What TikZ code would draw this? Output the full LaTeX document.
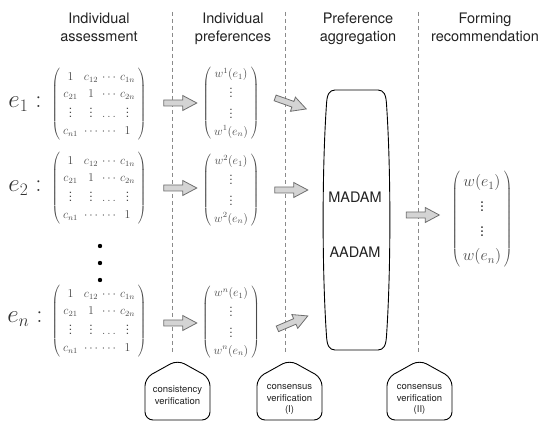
\RequirePackage{fix-cm}
\documentclass[tikz,border=0pt]{standalone}
\usepackage[no-math]{fontspec}
\setmainfont{TeX Gyre Heros}
\usetikzlibrary{shapes.arrows}
\definecolor{mgray}{HTML}{4A4A4A}
\definecolor{egray}{HTML}{333333}
\definecolor{dgray}{HTML}{8A8A8A}
\definecolor{afill}{HTML}{D4D4D4}
\definecolor{aline}{HTML}{6E6E6E}
\definecolor{htext}{HTML}{222222}
\newcommand{\prefmat}{$\left(\begin{array}{@{\hspace{3pt}}c@{\hspace{6pt}}c@{\hspace{4pt}}c@{\hspace{4pt}}c@{\hspace{3pt}}}
1 & c_{12} & \cdots & c_{1n}\\
c_{21} & 1 & \cdots & c_{2n}\\
\vdots & \vdots & \ldots & \vdots\\
c_{n1} & \cdots & \cdots & 1
\end{array}\right)$}
\newcommand{\wvec}[1]{$\left(\begin{array}{@{\hspace{3pt}}c@{\hspace{3pt}}}
w^{#1}(e_1)\\ \vdots\\ \vdots\\ w^{#1}(e_n)
\end{array}\right)$}
\tikzset{
  header/.style={font=\fontsize{14.5}{18.5}\selectfont, text=htext, align=center, inner sep=0pt, anchor=north},
  mtx/.style={text=mgray, font=\fontsize{12}{13}\selectfont\renewcommand{\arraystretch}{1.3}, inner sep=0pt},
  elabel/.style={text=egray, font=\fontsize{25}{25}\selectfont, inner sep=0pt},
  barrow/.style={single arrow, draw=aline, fill=afill, line width=0.8pt, minimum height=33pt,
    inner sep=2.6pt, single arrow head extend=4.5pt, single arrow tip angle=56},
  sep/.style={draw=dgray, line width=0.8pt, dash pattern=on 4pt off 3pt},
  house/.style={draw=black, line width=0.9pt, rounded corners=8pt, fill=white},
  boxtext/.style={font=\fontsize{9.5}{11.7}\selectfont, align=center, inner sep=0pt, text=htext},
  aggtext/.style={font=\fontsize{14.5}{16}\selectfont, inner sep=0pt, text=htext},
}
\begin{document}
\begin{tikzpicture}[x=1pt,y=-1pt]
\useasboundingbox (0,0) rectangle (550,430);
% separators
\coordinate (s1t) at (172,12); \coordinate (s1b) at (172,352);
\coordinate (s2t) at (285,12); \coordinate (s2b) at (285,352);
\coordinate (s3t) at (418,12); \coordinate (s3b) at (418,352);
\draw[sep] (s1t) -- (s1b);
\draw[sep] (s2t) -- (s2b);
\draw[sep] (s3t) -- (s3b);
% headers
\node[header] (h1) at (99,12.4) {Individual\\assessment};
\node[header] (h2) at (233,12.4) {Individual\\preferences};
\node[header] (h3) at (358,12.4) {Preference\\aggregation};
\node[header] (h4) at (485,12.4) {Forming\\recommendation};
% expert labels
\node[elabel] (e1) at (25,104) {$e_1:$};
\node[elabel] (e2) at (25,188) {$e_2:$};
\node[elabel] (en) at (25,319) {$e_n:$};
% matrices
\node[mtx] (m1) at (99,104) {\prefmat};
\node[mtx] (m2) at (99,188) {\prefmat};
\node[mtx] (mn) at (99,321) {\prefmat};
% vertical dots
\fill (100,246) circle (2.2pt);
\fill (100,263) circle (2.2pt);
\fill (100,280) circle (2.2pt);
% preference vectors
\node[mtx] (p1) at (231,103) {\wvec{1}};
\node[mtx] (p2) at (231,190) {\wvec{2}};
\node[mtx] (pn) at (231,322) {\wvec{n}};
% arrows matrix -> preferences
\node[barrow] (a1) at (177.5,103) {};
\node[barrow] (a2) at (177.5,188) {};
\node[barrow] (an) at (177.5,323) {};
% aggregation box
\draw[line width=0.9pt] (356,90) -- (378,90) .. controls (384,90) and (386,95) .. (386.5,104)
  .. controls (391,170) and (391,270) .. (386.5,336) .. controls (386,345) and (384,350) .. (378,350)
  -- (335,350) .. controls (329,350) and (327,345) .. (326.5,336)
  .. controls (322,270) and (322,170) .. (326.5,104) .. controls (327,95) and (329,90) .. (335,90) -- cycle;
\node[aggtext] (madam) at (355,197) {MADAM};
\node[aggtext] (aadam) at (355,252) {AADAM};
% arrows preferences -> aggregation
\node[barrow, rotate=-19.5] (b1) at (288,102.5) {};
\node[barrow] (b2) at (288.5,190) {};
\node[barrow, rotate=23] (bn) at (290,323.5) {};
% result
\node[barrow] (c1) at (420,215) {};
\node[mtx, font=\fontsize{16}{19}\selectfont\renewcommand{\arraystretch}{1.3}] (res) at (482,219)
  {$\left(\begin{array}{@{\,}c@{\,}} w(e_1)\\ \vdots\\ \vdots\\ w(e_n)\end{array}\right)$};
% verification boxes
\draw[house] (145,378) -- (177.5,360) -- (210,378) -- (210,420) -- (145,420) -- cycle;
\node[boxtext] (v1) at (177.5,395) {consistency\\verification};
\draw[house] (257,378) -- (289.5,360) -- (322,378) -- (322,420) -- (257,420) -- cycle;
\node[boxtext] (v2) at (289.5,399.5) {consensus\\verification\\(I)};
\draw[house] (387,378) -- (419.5,360) -- (452,378) -- (452,420) -- (387,420) -- cycle;
\node[boxtext] (v3) at (419.5,399.5) {consensus\\verification\\(II)};
\end{tikzpicture}
\end{document}
